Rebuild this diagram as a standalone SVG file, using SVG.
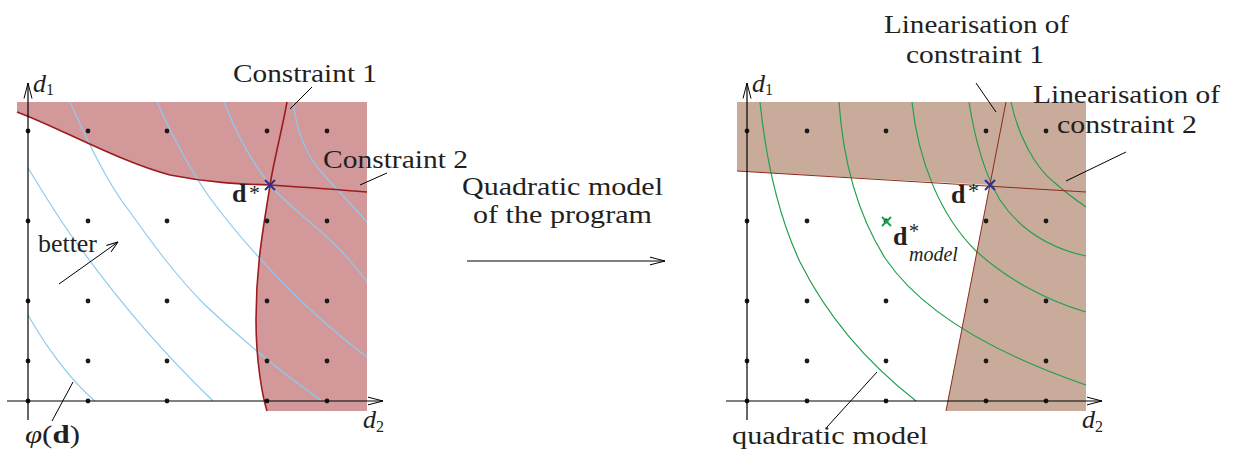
<svg xmlns="http://www.w3.org/2000/svg" width="1233" height="452" viewBox="0 0 1233 452">
<defs>
<style>
.t{font-family:"Liberation Serif","Times New Roman",serif;font-size:26px;fill:#231f20}
.it{font-style:italic}
.bd{font-weight:bold}
.ax{stroke:#000;stroke-width:1.2;fill:none}
.ld{stroke:#000;stroke-width:1;fill:none}
.blue{stroke:#8ccbf0;stroke-width:1.2;fill:none}
.green{stroke:#22a04e;stroke-width:1.2;fill:none}
.c1{stroke:#9b1c20;stroke-width:1.6;fill:none}
.c2{stroke:#8a2b1b;stroke-width:1;fill:none}
.dot{fill:#1a1a1a}
</style>
<marker id="ah" viewBox="0 0 16 10" refX="15.5" refY="5" markerWidth="16" markerHeight="10" markerUnits="userSpaceOnUse" orient="auto">
<path d="M0,1 L15.5,5 L0,9" fill="none" stroke="#000" stroke-width="1"/>
</marker>
<marker id="ahs" viewBox="0 0 12 10" refX="11.5" refY="5" markerWidth="12" markerHeight="10" markerUnits="userSpaceOnUse" orient="auto">
<path d="M0,1 L11.5,5 L0,9" fill="none" stroke="#000" stroke-width="1"/>
</marker>
<g id="dots">
<circle cx="0" cy="131" r="2.4"/><circle cx="60" cy="131" r="2.4"/><circle cx="139" cy="131" r="2.4"/><circle cx="239" cy="131" r="2.4"/><circle cx="299" cy="131" r="2.4"/>
<circle cx="0" cy="221" r="2.4"/><circle cx="60" cy="221" r="2.4"/><circle cx="139" cy="221" r="2.4"/><circle cx="239" cy="221" r="2.4"/><circle cx="299" cy="221" r="2.4"/>
<circle cx="0" cy="301" r="2.4"/><circle cx="60" cy="301" r="2.4"/><circle cx="139" cy="301" r="2.4"/><circle cx="239" cy="301" r="2.4"/><circle cx="299" cy="301" r="2.4"/>
<circle cx="0" cy="361" r="2.4"/><circle cx="60" cy="361" r="2.4"/><circle cx="139" cy="361" r="2.4"/><circle cx="239" cy="361" r="2.4"/><circle cx="299" cy="361" r="2.4"/>
<circle cx="0" cy="401" r="2.4"/><circle cx="60" cy="401" r="2.4"/><circle cx="139" cy="401" r="2.4"/><circle cx="239" cy="401" r="2.4"/><circle cx="299" cy="401" r="2.4"/>
</g>
</defs>
<rect width="1233" height="452" fill="#fff"/>

<!-- LEFT PANEL -->
<g id="left-panel">
<path d="M17,102 L367,102 L367,411 L267,411 C262,395 256,360 256,320 C256,260 265,220 270,185 C240,184 210,183 170,175 C120,162 60,128 17,112 Z" fill="#d3999a"/>
<g id="left-contours">
<path class="blue" d="M28,315 C45,345 70,380 95,401"/>
<path class="blue" d="M28,168 C45,195 62,225 82,250 C105,282 150,340 213,401"/>
<path class="blue" d="M70,102 C85,135 105,180 130,212 C150,240 175,275 205,305 C240,338 285,375 322,401"/>
<path class="blue" d="M157,102 C172,135 190,170 210,198 C235,232 262,262 290,290 C315,315 340,337 367,357"/>
<path class="blue" d="M224,102 C235,130 250,160 270,185 C290,208 320,228 343,253 C352,263 360,272 367,282"/>
<path class="blue" d="M293,102 C296,125 302,148 318,168 C335,188 352,205 367,222"/>
</g>
<path id="constraint2" class="c1" d="M17,112 C60,128 120,162 170,175 C210,183 240,184 270,185 C300,187 330,189 367,192"/>
<path id="constraint1" class="c1" d="M287,102 C282,130 274,160 270,185 C265,220 256,260 256,320 C256,360 262,395 267,411"/>
<use href="#dots" x="28" class="dot"/>
<line class="ax" x1="28" y1="420" x2="28" y2="83" marker-end="url(#ah)"/>
<line class="ax" x1="7" y1="401" x2="383" y2="401" marker-end="url(#ah)"/>
<path d="M265,180 L275,190 M275,180 L265,190" stroke="#2b2f8f" stroke-width="2" fill="none"/>
</g>

<!-- RIGHT PANEL -->
<g id="right-panel">
<path d="M737,102 L1086,102 L1086,411 L946,411 L990,185 L737,171 Z" fill="#c9ab9b"/>
<g id="right-contours">
<path class="green" d="M760,102 C766,160 778,215 800,262 C830,322 870,365 916,401"/>
<path class="green" d="M839,102 C843,160 858,215 885,258 C920,310 990,352 1086,385"/>
<path class="green" d="M912,102 C918,160 940,215 975,250 C1005,278 1045,300 1086,312"/>
<path class="green" d="M969,102 C975,140 985,175 1000,200 C1020,230 1050,248 1086,256"/>
<path class="green" d="M1011,102 C1018,135 1035,168 1055,183 C1066,193 1076,200 1086,207"/>
</g>
<line id="lin2" class="c2" x1="737" y1="171" x2="1086" y2="192"/>
<line id="lin1" class="c2" x1="1006" y1="102" x2="946" y2="411"/>
<use href="#dots" x="747" class="dot"/>
<line class="ax" x1="747" y1="420" x2="747" y2="83" marker-end="url(#ah)"/>
<line class="ax" x1="726" y1="401" x2="1102" y2="401" marker-end="url(#ah)"/>
<path d="M985,180 L995,190 M995,180 L985,190" stroke="#2b2f8f" stroke-width="2" fill="none"/>
<path d="M882,217 L891,226 M891,217 L882,226" stroke="#22a04e" stroke-width="2" fill="none"/>
</g>

<!-- CONNECTORS / LEADERS -->
<g id="connectors">
<line class="ld" x1="312" y1="87" x2="290" y2="109"/>
<line class="ld" x1="387" y1="173" x2="360" y2="185"/>
<line class="ld" x1="59" y1="284" x2="118" y2="242" marker-end="url(#ahs)"/>
<line class="ld" x1="73" y1="382" x2="52" y2="421"/>
<line class="ld" x1="467" y1="261" x2="665" y2="261" marker-end="url(#ah)"/>
<line class="ld" x1="976" y1="83" x2="996" y2="112"/>
<line class="ld" x1="1126" y1="152" x2="1066" y2="181"/>
<line class="ld" x1="877" y1="372" x2="827" y2="427"/>
</g>

<!-- LABELS -->
<g id="label-constraint1"><text class="t" x="233" y="82" textLength="144" lengthAdjust="spacingAndGlyphs">Constraint 1</text></g>
<g id="label-constraint2"><text class="t" x="323" y="168" textLength="145" lengthAdjust="spacingAndGlyphs">Constraint 2</text></g>
<g id="label-better"><text class="t" x="38" y="252" textLength="59" lengthAdjust="spacingAndGlyphs">better</text></g>
<g id="label-phi"><text class="t" x="25" y="443" textLength="55" lengthAdjust="spacingAndGlyphs"><tspan class="it">φ</tspan>(<tspan class="bd">d</tspan>)</text></g>
<g id="label-d1-left"><text class="t it" x="33" y="92">d<tspan font-size="16" dy="3" font-style="normal">1</tspan></text></g>
<g id="label-d2-left"><text class="t it" x="363" y="428">d<tspan font-size="16" dy="4" font-style="normal">2</tspan></text></g>
<g id="label-dstar-left"><text class="t bd" x="232" y="202">d<tspan x="249" y="200" font-size="22" font-weight="normal">*</tspan></text></g>
<g id="label-quadratic"><text class="t" x="462" y="195" textLength="201" lengthAdjust="spacingAndGlyphs">Quadratic model</text><text class="t" x="473" y="223" textLength="179" lengthAdjust="spacingAndGlyphs">of the program</text></g>
<g id="label-lin1"><text class="t" x="884" y="33" textLength="185" lengthAdjust="spacingAndGlyphs">Linearisation of</text><text class="t" x="906" y="63" textLength="138" lengthAdjust="spacingAndGlyphs">constraint 1</text></g>
<g id="label-lin2"><text class="t" x="1033" y="103" textLength="187" lengthAdjust="spacingAndGlyphs">Linearisation of</text><text class="t" x="1057" y="133" textLength="140" lengthAdjust="spacingAndGlyphs">constraint 2</text></g>
<g id="label-qmodel"><text class="t" x="732" y="444" textLength="196" lengthAdjust="spacingAndGlyphs">quadratic model</text></g>
<g id="label-d1-right"><text class="t it" x="752" y="92">d<tspan font-size="16" dy="3" font-style="normal">1</tspan></text></g>
<g id="label-d2-right"><text class="t it" x="1082" y="428">d<tspan font-size="16" dy="4" font-style="normal">2</tspan></text></g>
<g id="label-dstar-right"><text class="t bd" x="951" y="203">d<tspan x="968" y="198" font-size="22" font-weight="normal">*</tspan></text></g>
<g id="label-dmodel"><text class="t bd" x="893" y="245">d<tspan x="909" y="238" font-size="20" font-weight="normal">*</tspan><tspan x="909" y="261" font-size="20" font-weight="normal" font-style="italic">model</tspan></text></g>
</svg>
